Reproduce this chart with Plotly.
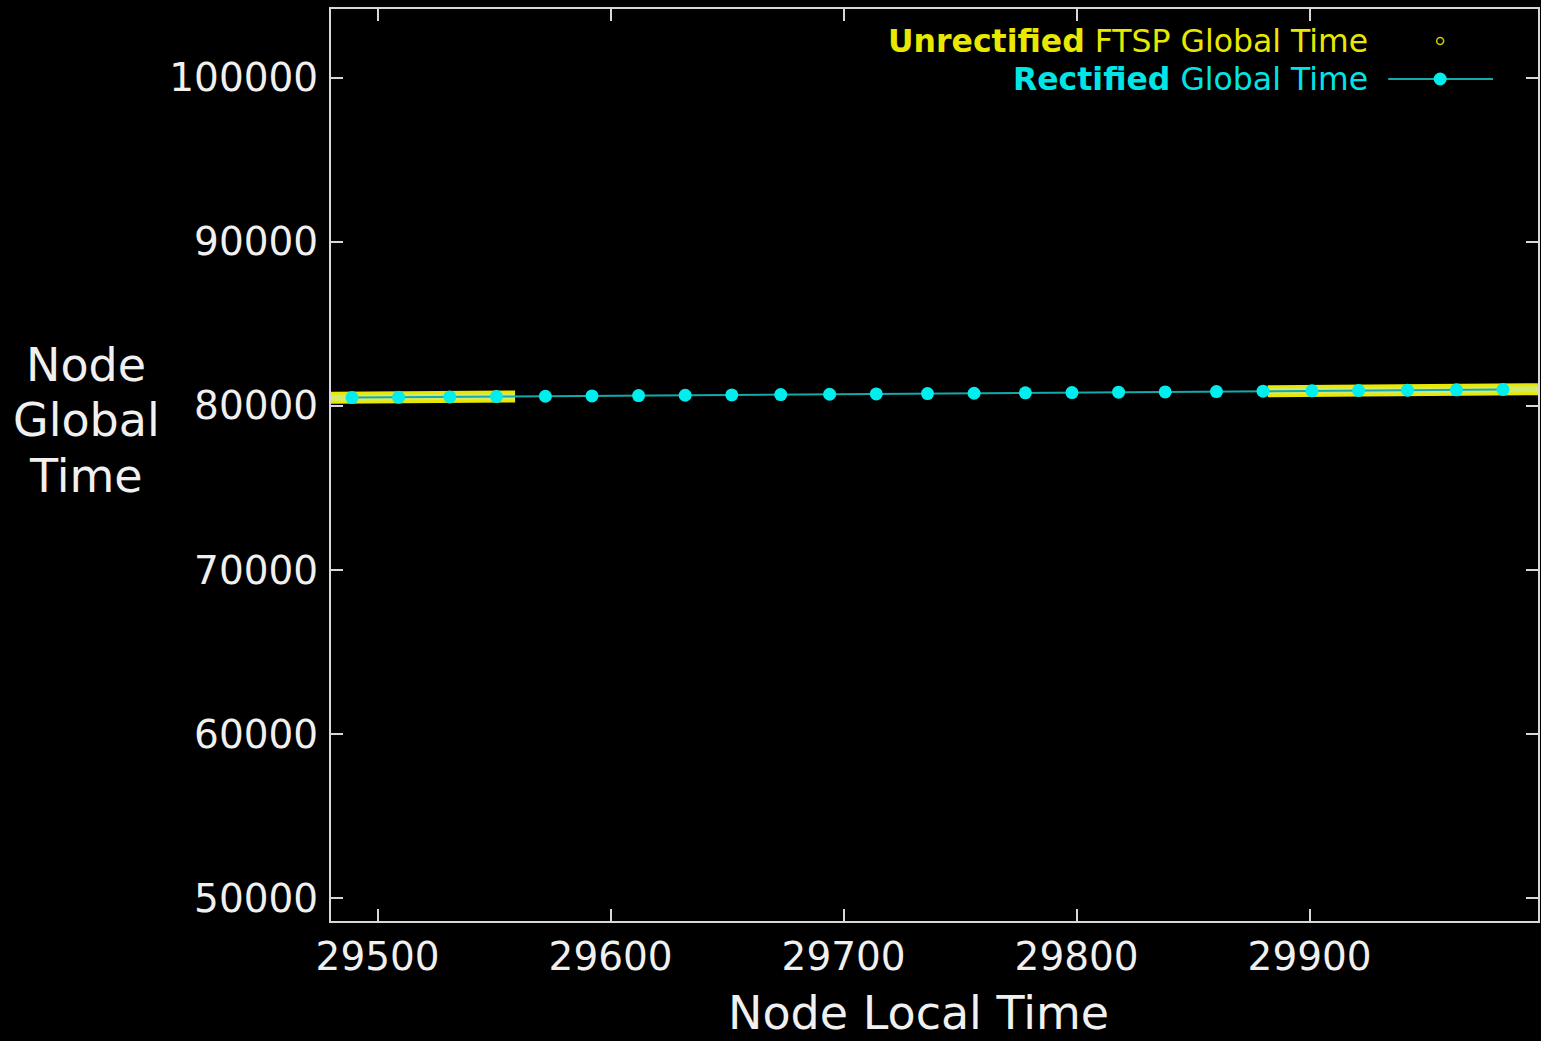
import plotly.graph_objects as go

# Rectified global time (cyan line + dots)
rect_x = [29489, 29509, 29531, 29551, 29572, 29592, 29612, 29632, 29652, 29673,
          29694, 29714, 29736, 29756, 29778, 29798, 29818, 29838, 29860, 29880,
          29901, 29921, 29942, 29963, 29983]
rect_y = [80500, 80520, 80542, 80562, 80583, 80603, 80623, 80643, 80663, 80684,
          80705, 80725, 80747, 80767, 80789, 80809, 80829, 80849, 80871, 80891,
          80912, 80932, 80953, 80974, 80994]

# Unrectified FTSP global time (dense yellow bands, start/end of each run)
unrect_x = [29480, 29559, None, 29882, 29998]
unrect_y = [80491, 80570, None, 80893, 81009]

x_ticks = [29500, 29600, 29700, 29800, 29900]
y_ticks = [50000, 60000, 70000, 80000, 90000, 100000]

FONT = "DejaVu Sans"
W, H = 1541, 1041
L, R, T, B = 331, 1, 9, 120
pw = W - L - R
ph = H - T - B

def px(x):
    return (x - L) / pw

def py(y):
    return (H - B - y) / ph

fig = go.Figure()

fig.add_trace(go.Scatter(x=unrect_x, y=unrect_y, mode="lines",
                         line=dict(color="#e8e800", width=12),
                         showlegend=False, hoverinfo="skip"))
fig.add_trace(go.Scatter(x=unrect_x, y=unrect_y, mode="lines",
                         line=dict(color="#d2ec6a", width=6),
                         showlegend=False, hoverinfo="skip"))
fig.add_trace(go.Scatter(x=rect_x, y=rect_y, mode="lines+markers",
                         line=dict(color="#14aaaa", width=2),
                         marker=dict(color="#00eeee", size=13, line=dict(width=0)),
                         showlegend=False))

axis_common = dict(showgrid=False, zeroline=False, showline=True, mirror="allticks",
                   linecolor="#d8d8d8", linewidth=2, ticks="inside", ticklen=12,
                   tickwidth=2, tickcolor="#d8d8d8",
                   tickfont=dict(family=FONT, size=39, color="#f0f0f0"),
                   tickformat="d")

fig.update_layout(
    width=W, height=H,
    paper_bgcolor="black", plot_bgcolor="black",
    margin=dict(l=L, r=R, t=T, b=B),
    showlegend=False,
    xaxis=dict(range=[29480, 29998], tickvals=x_ticks, ticklabelstandoff=0, **axis_common),
    yaxis=dict(range=[48598, 104187], tickvals=y_ticks, ticklabelstandoff=3, **axis_common),
)

ann = []
ann.append(dict(text="Node Local Time", x=px(919), y=py(1013), xref="paper", yref="paper",
                showarrow=False, xanchor="center", yanchor="middle",
                font=dict(family=FONT, size=46, color="#f0f0f0")))
for word, yc in [("Node", 365), ("Global", 420), ("Time", 476)]:
    ann.append(dict(text=word, x=px(86), y=py(yc), xref="paper", yref="paper",
                    showarrow=False, xanchor="center", yanchor="middle",
                    font=dict(family=FONT, size=46, color="#f0f0f0")))
ann.append(dict(text="<b>Unrectified</b> FTSP Global Time", x=px(1372), y=py(41),
                xref="paper", yref="paper", showarrow=False, xanchor="right", yanchor="middle",
                font=dict(family=FONT, size=31.5, color="#e8e800")))
ann.append(dict(text="<b>Rectified</b> Global Time", x=px(1372), y=py(79),
                xref="paper", yref="paper", showarrow=False, xanchor="right", yanchor="middle",
                font=dict(family=FONT, size=31.5, color="#00e5e5")))
fig.update_layout(annotations=ann)

shapes = []
shapes.append(dict(type="line", xref="paper", yref="paper", x0=px(1390), x1=px(1495),
                   y0=py(79), y1=py(79), line=dict(color="#14aaaa", width=2)))
shapes.append(dict(type="circle", xref="paper", yref="paper", xsizemode="pixel", ysizemode="pixel",
                   xanchor=px(1442), yanchor=py(79), x0=-6.5, x1=6.5, y0=-6.5, y1=6.5,
                   fillcolor="#00eeee", line=dict(width=0)))
shapes.append(dict(type="circle", xref="paper", yref="paper", xsizemode="pixel", ysizemode="pixel",
                   xanchor=px(1442), yanchor=py(41), x0=-3.5, x1=3.5, y0=-3.5, y1=3.5,
                   fillcolor="rgba(0,0,0,0)", line=dict(color="#c8c800", width=1.5)))
fig.update_layout(shapes=shapes)

fig.write_html("out.html", config={"displayModeBar": False},
               post_script="document.body.style.margin='0';document.body.style.background='black';document.body.style.overflow='hidden';")
